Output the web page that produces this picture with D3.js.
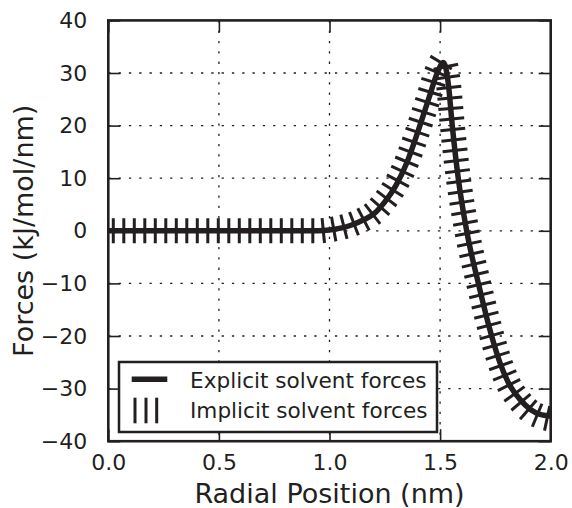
<!DOCTYPE html>
<html>
<head>
<meta charset="utf-8">
<script src="https://cdn.jsdelivr.net/npm/d3@7"></script>
<style>
  html, body { margin: 0; padding: 0; background: #fff; }
  svg { display: block; }
  text { font-family: "DejaVu Sans", sans-serif; fill: #231f20; }
</style>
</head>
<body>
<svg id="chart" width="572" height="508"></svg>
<script>
// ---- data ----
const radialPos = [0.0, 0.5, 0.9, 0.95, 1.0, 1.05, 1.1, 1.15, 1.2, 1.25, 1.3, 1.35, 1.4, 1.45, 1.487, 1.515, 1.537, 1.555, 1.582, 1.62, 1.673, 1.733, 1.77, 1.81, 1.86, 1.91, 1.96, 2.0];
const explicitForces = [0, 0, 0, 0, 0.15, 0.5, 1.1, 2.0, 3.2, 5.5, 8.6, 13.0, 18.9, 25.3, 30.0, 32.0, 28.0, 20.0, 10.0, 0, -10, -20, -25, -29, -32, -34, -35, -35.2];
const implicitForces = [0, 0, 0, 0, 0.2, 0.6, 1.2, 2.1, 3.4, 5.7, 8.8, 13.2, 19.1, 25.6, 30.4, 32.4, 28.2, 20.2, 10.2, 0.2, -9.8, -19.8, -25.0, -29.2, -32.3, -34.4, -35.4, -35.8];
const xTickValues = [0, 0.5, 1.0, 1.5, 2.0];
const xTickLabels = ["0.0", "0.5", "1.0", "1.5", "2.0"];
const yTickValues = [-40, -30, -20, -10, 0, 10, 20, 30, 40];
const yTickLabels = ["\u221240", "\u221230", "\u221220", "\u221210", "0", "10", "20", "30", "40"];
const seriesNames = ["Explicit solvent forces", "Implicit solvent forces"];

// ---- layout ----
const INK = "#231f20";
const svg = d3.select("#chart");
const L = 108.3, R = 550.7, T = 20.4, B = 441.2;
const x = d3.scaleLinear().domain([0, 2]).range([L, R]);
const y = d3.scaleLinear().domain([-40, 40]).range([B, T]);

svg.append("defs").append("clipPath").attr("id", "plotclip")
  .append("rect").attr("x", L).attr("y", T).attr("width", R - L).attr("height", B - T);

// grid
const grid = svg.append("g");
grid.selectAll("line.gx").data(xTickValues.slice(1, -1)).join("line")
  .attr("x1", d => x(d)).attr("x2", d => x(d)).attr("y1", T).attr("y2", B)
  .attr("stroke", INK).attr("stroke-width", 1.3).attr("stroke-dasharray", "2.3,8");
grid.selectAll("line.gy").data(yTickValues.slice(1, -1)).join("line")
  .attr("x1", L).attr("x2", R).attr("y1", d => y(d)).attr("y2", d => y(d))
  .attr("stroke", INK).attr("stroke-width", 1.3).attr("stroke-dasharray", "2.3,8");

// axes (ticks inward on all sides)
const tickLen = 12;
const axB = svg.append("g").attr("transform", `translate(0,${B})`)
  .call(d3.axisBottom(x).tickValues(xTickValues).tickFormat((d, i) => xTickLabels[i]).tickSizeInner(-tickLen).tickSizeOuter(0).tickPadding(13));
const axT = svg.append("g").attr("transform", `translate(0,${T})`)
  .call(d3.axisTop(x).tickValues(xTickValues).tickFormat("").tickSizeInner(-tickLen).tickSizeOuter(0));
const axLft = svg.append("g").attr("transform", `translate(${L},0)`)
  .call(d3.axisLeft(y).tickValues(yTickValues).tickFormat((d, i) => yTickLabels[i]).tickSizeInner(-tickLen).tickSizeOuter(0).tickPadding(tickLen + 9));
const axRt = svg.append("g").attr("transform", `translate(${R},0)`)
  .call(d3.axisRight(y).tickValues(yTickValues).tickFormat("").tickSizeInner(-tickLen).tickSizeOuter(0));
[axB, axT, axLft, axRt].forEach(a => {
  a.select(".domain").remove();
  a.selectAll(".tick line").attr("stroke", INK).attr("stroke-width", 1.6);
  a.selectAll("text").attr("fill", INK).style("font-family", "DejaVu Sans").style("font-size", "22px");
});
axB.selectAll("text").attr("dy", "0.72em");

// data lines
const pts = (ys) => radialPos.map((v, i) => [v, ys[i]]);
const lineGen = d3.line().x(d => x(d[0])).y(d => y(d[1])).curve(d3.curveMonotoneX);
const plot = svg.append("g").attr("clip-path", "url(#plotclip)");

plot.append("path").attr("d", lineGen(pts(explicitForces)))
  .attr("fill", "none").attr("stroke", INK).attr("stroke-width", 5.5)
  .attr("stroke-linejoin", "round").attr("stroke-linecap", "butt");

// implicit: ticked stroke (perpendicular ticks along path)
const implicitPath = plot.append("path").attr("d", lineGen(pts(implicitForces)))
  .attr("fill", "none").attr("stroke", "none");
const node = implicitPath.node();
const total = node.getTotalLength();
const ticks = [];
for (let s = 5; s <= total; s += 10.5) {
  const p = node.getPointAtLength(s);
  const a = node.getPointAtLength(Math.max(0, s - 0.6));
  const b = node.getPointAtLength(Math.min(total, s + 0.6));
  let tx = b.x - a.x, ty = b.y - a.y;
  const len = Math.hypot(tx, ty) || 1;
  tx /= len; ty /= len;
  const nx = -ty, ny = tx, h = 12.5;
  ticks.push([p.x - nx * h, p.y - ny * h, p.x + nx * h, p.y + ny * h]);
}
plot.append("g").selectAll("line").data(ticks).join("line")
  .attr("x1", d => d[0]).attr("y1", d => d[1]).attr("x2", d => d[2]).attr("y2", d => d[3])
  .attr("stroke", INK).attr("stroke-width", 3);

// frame
svg.append("rect").attr("x", L).attr("y", T).attr("width", R - L).attr("height", B - T)
  .attr("fill", "none").attr("stroke", INK).attr("stroke-width", 2.6);

// axis labels
svg.append("text").attr("x", (L + R) / 2).attr("y", 503).attr("text-anchor", "middle")
  .style("font-size", "27px").text("Radial Position (nm)");
svg.append("text").attr("transform", `translate(33,${(T + B) / 2}) rotate(-90)`)
  .attr("text-anchor", "middle").style("font-size", "27px").text("Forces (kJ/mol/nm)");

// legend
const lg = svg.append("g");
lg.append("rect").attr("x", 119).attr("y", 362).attr("width", 318).attr("height", 70)
  .attr("fill", "#fff").attr("stroke", INK).attr("stroke-width", 2.5);
lg.append("line").attr("x1", 131.7).attr("x2", 167.3).attr("y1", 379.3).attr("y2", 379.3)
  .attr("stroke", INK).attr("stroke-width", 5.5);
lg.selectAll("line.h").data([135, 146, 156.7]).join("line")
  .attr("x1", d => d).attr("x2", d => d).attr("y1", 397.7).attr("y2", 423.3)
  .attr("stroke", INK).attr("stroke-width", 3);
lg.selectAll("text").data(seriesNames).join("text")
  .attr("x", 190).attr("y", (d, i) => 380 + i * 30).attr("dy", "0.36em")
  .style("font-size", "21.6px").text(d => d);
</script>
</body>
</html>
